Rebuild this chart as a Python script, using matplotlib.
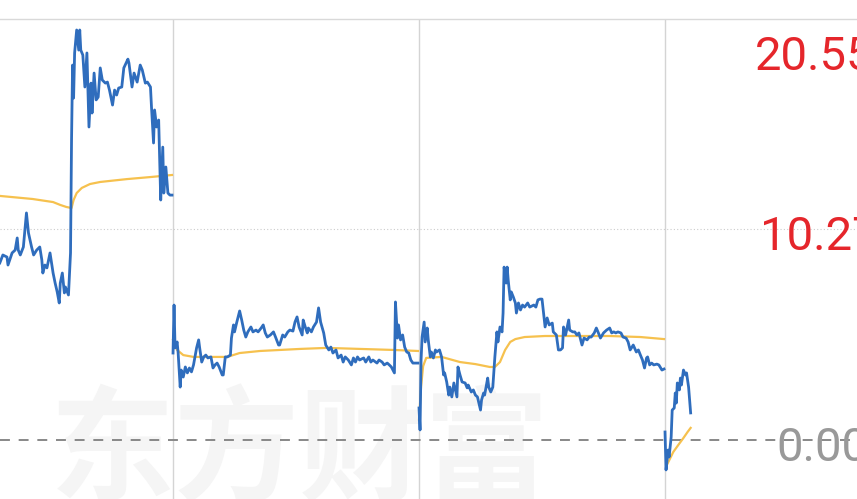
# -*- coding=utf-8 -*-
import matplotlib.pyplot as plt

# 分时数据：每天 240 分钟，数值为涨跌幅(%)，第一天只露出后半段
d1_min = [71, 74, 78, 79, 83, 86, 88, 89, 91, 94, 97, 99, 102, 104, 107, 110, 112, 113, 115, 117,
          120, 123, 125, 127, 129, 130, 132, 134, 135, 138, 140, 141, 142, 143, 144, 146, 148, 149, 150, 152,
          154, 156, 158, 160, 161, 163, 165, 167, 169, 171, 174, 176, 178, 181, 183, 185, 187, 190, 192, 196,
          197, 200, 202, 205, 208, 210, 213, 215, 218, 219, 221, 222, 224, 226, 227, 228, 230, 231, 233, 235,
          237, 239]
d1_pct = [8.63, 9.02, 8.92, 8.53, 9.12, 9.26, 9.85, 9.26, 9.02, 9.41, 11.07, 10.09, 9.41, 9.02, 9.26, 9.41, 8.78, 8.14, 8.53, 8.39,
          9.12, 8.14, 7.65, 7.22, 6.68, 7.65, 8.14, 7.17, 7.46, 7.07, 9.12, 14.63, 18.28, 16.67, 18.87, 19.99, 19.01, 19.99, 19.01, 18.77,
          17.21, 18.87, 15.26, 17.40, 15.94, 17.89, 16.58, 16.72, 18.14, 17.55, 17.40, 17.45, 17.06, 16.33, 17.06, 16.82, 17.16, 17.21, 18.14, 18.57,
          18.38, 17.21, 17.89, 17.45, 18.28, 18.04, 17.40, 17.45, 17.21, 16.23, 14.48, 16.09, 15.26, 15.60, 13.65, 11.70, 14.28, 12.04, 13.31, 12.04,
          11.94, 11.94]
d1_avg_min = [71, 103, 123, 130, 136, 141, 143, 146, 151, 159, 169, 195, 218, 239]
d1_avg = [11.90, 11.75, 11.60, 11.46, 11.36, 11.31, 11.70, 12.04, 12.29, 12.48, 12.58, 12.72, 12.82, 12.92]

d2_min = [0, 1, 2, 4, 5, 7, 8, 10, 12, 14, 16, 18, 20, 23, 25, 26, 28, 30, 32, 34,
          37, 39, 41, 43, 45, 48, 49, 51, 53, 56, 57, 59, 60, 62, 65, 67, 69, 71, 73, 76,
          78, 81, 83, 86, 88, 90, 92, 95, 98, 100, 103, 104, 107, 109, 112, 114, 117, 119, 121, 123,
          126, 127, 129, 131, 132, 135, 137, 140, 142, 144, 147, 149, 152, 154, 156, 159, 161, 164, 166, 168,
          171, 174, 176, 178, 180, 182, 186, 188, 191, 193, 195, 199, 201, 204, 206, 209, 211, 213, 216, 217,
          219, 220, 222, 224, 226, 228, 230, 232, 234, 238, 239]
d2_pct = [4.24, 6.58, 4.49, 4.78, 4.24, 2.58, 3.41, 3.07, 3.56, 3.27, 3.51, 3.32, 3.66, 4.49, 4.88, 4.49, 3.80, 4.05, 4.14, 4.00,
          4.05, 3.51, 3.66, 3.75, 3.56, 3.17, 3.17, 4.05, 4.05, 4.14, 4.97, 5.61, 5.27, 5.70, 6.29, 5.85, 5.36, 5.02, 5.27, 5.51,
          5.27, 5.36, 5.27, 5.46, 5.61, 5.22, 5.02, 5.12, 5.27, 5.02, 4.63, 4.63, 5.12, 5.02, 5.27, 5.36, 5.31, 5.75, 6.00, 5.51,
          5.12, 5.85, 5.51, 5.22, 5.46, 5.27, 5.51, 5.75, 6.44, 5.75, 5.22, 4.63, 4.39, 4.53, 4.24, 4.39, 4.00, 4.14, 3.80, 4.05,
          3.90, 3.66, 4.00, 3.80, 4.05, 3.90, 4.00, 3.80, 4.05, 3.80, 3.90, 3.75, 3.90, 3.80, 3.66, 3.75, 3.66, 3.56, 3.27, 6.73,
          4.97, 5.61, 4.88, 5.12, 4.53, 4.29, 4.24, 3.90, 3.75, 3.75, 3.75]
d2_avg_min = [0, 4, 10, 20, 53, 65, 85, 124, 150, 215, 239]
d2_avg = [4.88, 4.39, 4.14, 4.05, 4.05, 4.24, 4.34, 4.44, 4.49, 4.39, 4.34]

d3_min = [0, 1, 2, 3, 5, 6, 8, 9, 11, 12, 14, 16, 17, 20, 22, 24, 25, 27, 29, 30,
          32, 34, 37, 38, 40, 42, 45, 47, 48, 51, 53, 55, 57, 60, 61, 63, 64, 67, 68, 70,
          72, 74, 76, 77, 79, 81, 82, 83, 85, 86, 87, 89, 90, 92, 94, 95, 97, 99, 101, 103,
          106, 108, 112, 114, 116, 118, 120, 123, 125, 127, 130, 131, 134, 136, 138, 140, 141, 143, 146, 147,
          150, 152, 154, 156, 159, 161, 164, 166, 168, 171, 173, 175, 177, 180, 183, 186, 188, 190, 192, 194,
          197, 199, 202, 204, 206, 209, 212, 214, 216, 218, 220, 222, 223, 225, 227, 229, 232, 234, 237, 239]
d3_pct = [1.56, 0.49, 3.90, 5.02, 5.75, 4.78, 5.46, 4.88, 4.05, 4.29, 4.00, 4.39, 4.29, 4.39, 4.05, 3.17, 3.27, 2.83, 2.19, 2.58,
          2.10, 2.78, 2.10, 3.56, 3.17, 2.83, 2.78, 2.54, 2.68, 2.34, 2.44, 2.19, 2.10, 1.46, 1.95, 2.29, 2.19, 3.02, 2.58, 2.34,
          2.58, 4.05, 5.27, 4.78, 5.51, 5.27, 6.19, 8.43, 7.65, 8.43, 7.80, 6.83, 7.22, 6.97, 6.68, 6.19, 6.68, 6.34, 6.58, 6.48,
          6.68, 6.48, 6.58, 6.48, 6.83, 6.87, 6.87, 5.51, 5.95, 5.61, 5.70, 5.27, 5.12, 4.39, 4.39, 4.49, 5.51, 5.12, 5.85, 5.36,
          5.27, 5.27, 5.12, 5.22, 4.63, 4.97, 4.88, 5.02, 5.02, 5.22, 5.46, 5.22, 4.97, 5.22, 5.36, 5.46, 5.22, 5.27, 5.22, 5.27,
          5.22, 5.02, 4.97, 4.78, 4.39, 4.63, 4.29, 4.39, 4.14, 3.90, 3.51, 4.00, 4.05, 3.66, 3.75, 3.66, 3.70, 3.66, 3.41, 3.46]
d3_avg_min = [0, 2, 4, 7, 22, 40, 55, 69, 74, 79, 84, 89, 94, 103, 123, 186, 216, 239]
d3_avg = [1.0, 2.6, 3.6, 4.0, 4.05, 3.80, 3.70, 3.56, 3.56, 3.80, 4.39, 4.78, 4.92, 5.02, 5.07, 5.07, 5.02, 4.92]

d4_min = [0, 1, 3, 4, 6, 7, 9, 10, 11, 12, 14, 15, 16, 18, 20, 21, 23, 24, 25]
d4_pct = [0.39, -1.46, -0.49, -0.83, 0.15, 1.46, 1.56, 2.29, 1.80, 2.78, 2.44, 3.02, 2.68, 3.41, 3.17, 3.27, 2.58, 1.95, 1.32]
d4_avg_min = [2, 8, 13, 18, 22, 25]
d4_avg = [-1.2, -0.59, -0.24, 0.10, 0.39, 0.59]

y_ticks = [20.55, 10.27, 0.0]
y_labels = ['20.55', '10.27', '0.00']
day_len = 240

days = [(d1_min, d1_pct, d1_avg_min, d1_avg),
        (d2_min, d2_pct, d2_avg_min, d2_avg),
        (d3_min, d3_pct, d3_avg_min, d3_avg),
        (d4_min, d4_pct, d4_avg_min, d4_avg)]

blue = '#2f6dbd'
yellow = '#f6c14e'

fig = plt.figure(figsize=(8.57, 4.99), dpi=100)
ax = fig.add_axes([0, 0, 1, 480.5 / 499])

# 水印
ax.text(50 / 857, 9 / 499, '东方财富', transform=fig.transFigure, fontsize=90,
        family=['Noto Sans CJK SC', 'DejaVu Sans'], fontweight='bold',
        color='#f5f5f5', va='baseline', ha='left', zorder=0)

# 分隔线和参考线
for k in range(1, 4):
    ax.axvline(k * day_len, color='#d4d4d4', lw=1.0, zorder=1)
ax.axhline(y_ticks[1], color='#cccccc', lw=0.8, linestyle=(0, (1, 2)), zorder=1)
ax.axhline(y_ticks[2], color='#888888', lw=1.4, dashes=(5.1, 4.5), zorder=1)

# 画每一天的价格线和均价线
for k, (tm, pct, tm_avg, avg) in enumerate(days):
    ax.plot([k * day_len + m for m in tm_avg], avg, color=yellow, lw=1.6, zorder=2)
    ax.plot([k * day_len + m for m in tm], pct, color=blue, lw=2.0, zorder=3)

ax.set_xlim(71.2, 907.3)
ax.set_ylim(-2.877, 20.55)

for name in ['left', 'right', 'bottom']:
    ax.spines[name].set_visible(False)
ax.spines['top'].set_color('#d9d9d9')
ax.spines['top'].set_linewidth(1.0)
ax.set_xticks([])
ax.set_yticks([])

# 右侧刻度文字
dx = [11.6, 15.9, 8]
dy = [-37, -15, -15]
colors = ['#e5262b', '#e5262b', '#999999']
for val, label, ox, oy, c in zip(y_ticks, y_labels, dx, dy, colors):
    ax.annotate(label, xy=(1.0, val), xycoords=('axes fraction', 'data'),
                xytext=(ox, oy), textcoords='offset points', ha='right', va='baseline',
                fontsize=34, family='Roboto', color=c, zorder=4)

plt.savefig('out.png', dpi=100)
